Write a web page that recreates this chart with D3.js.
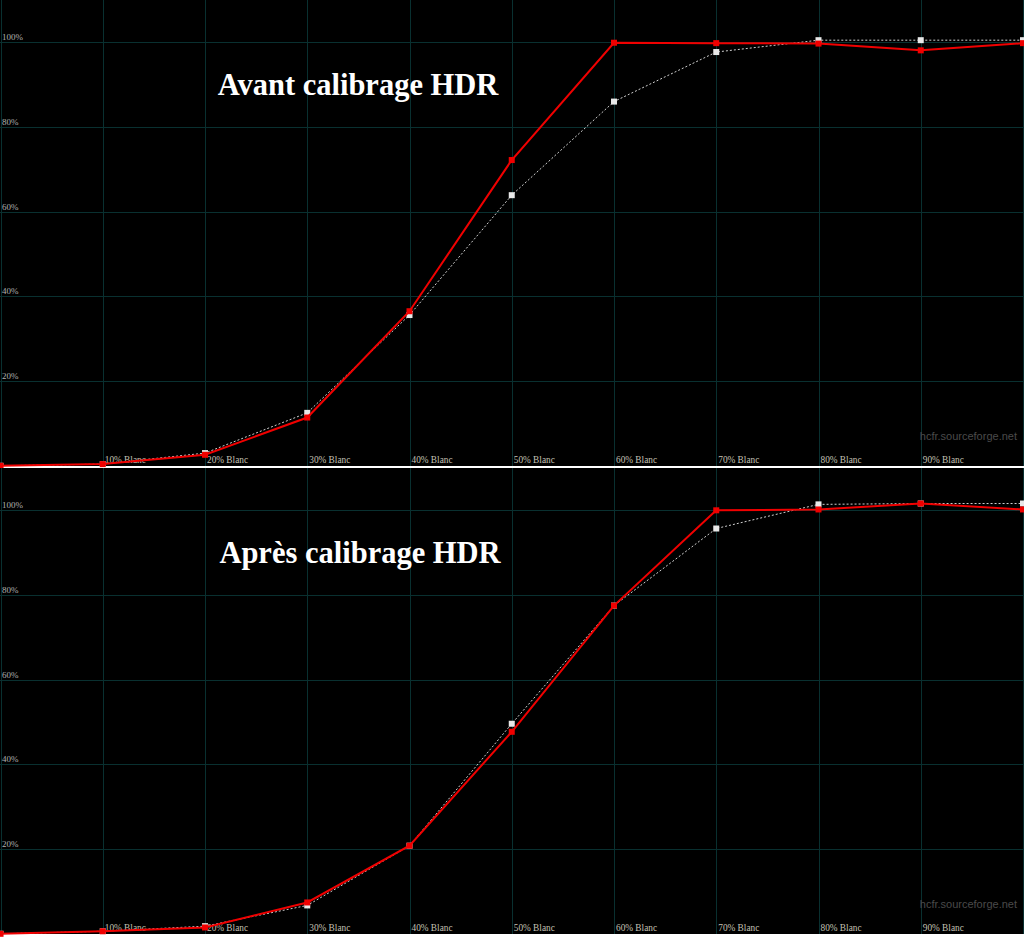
<!DOCTYPE html>
<html>
<head>
<meta charset="utf-8">
<script src="https://cdn.jsdelivr.net/npm/d3@7"></script>
<style>
html,body{margin:0;padding:0;background:#fff;}
svg{display:block;}
</style>
</head>
<body>
<svg id="chart" width="1024" height="942"></svg>
<script>
// ---- data ----
const levels = [0, 10, 20, 30, 40, 50, 60, 70, 80, 90, 100];
const xTickLevels = [10, 20, 30, 40, 50, 60, 70, 80, 90];
const xTickLabels = ["10% Blanc", "20% Blanc", "30% Blanc", "40% Blanc", "50% Blanc", "60% Blanc", "70% Blanc", "80% Blanc", "90% Blanc"];
const yTickValues = [20, 40, 60, 80, 100];
const yTickLabels = ["20%", "40%", "60%", "80%", "100%"];
const panelTitles = ["Avant calibrage HDR", "Après calibrage HDR"];
const watermark = "hcfr.sourceforge.net";
// reference (target) curve, white dotted
const beforeRef = [0, 0.4, 3.0, 12.5, 35.6, 63.9, 86.0, 97.7, 100.5, 100.5, 100.5];
// measured curve, red
const beforeMeas = [0, 0.4, 2.6, 11.4, 36.5, 72.2, 99.9, 99.8, 99.7, 98.1, 99.8];
const afterRef = [0, 0.6, 1.8, 6.7, 20.8, 49.6, 77.5, 95.7, 101.4, 101.6, 101.6];
const afterMeas = [0, 0.6, 1.5, 7.4, 20.8, 47.7, 77.5, 100.0, 100.2, 101.6, 100.2];

const panels = [
  {title: panelTitles[0], ref: beforeRef, meas: beforeMeas, top: 0, tx: 358},
  {title: panelTitles[1], ref: afterRef, meas: afterMeas, top: 468, tx: 360}
];

const svg = d3.select("#chart");
const W = 1024, panelH = 466;
const x = d3.scaleLinear().domain([0, 100]).range([0.5, 1023]);
const y = d3.scaleLinear().domain([0, 100]).range([465.8, 42.3]);
const gridColor = "#093030";

svg.append("rect").attr("x", 0).attr("y", 0).attr("width", W).attr("height", 942).attr("fill", "#fff");

panels.forEach(p => {
  const g = svg.append("g").attr("transform", `translate(0,${p.top})`);
  g.append("rect").attr("x", 0).attr("y", 0).attr("width", W).attr("height", panelH).attr("fill", "#000");

  // vertical grid
  g.selectAll("line.vg").data(levels).enter().append("line")
    .attr("x1", d => Math.round(x(d)) + 0.5).attr("x2", d => Math.round(x(d)) + 0.5)
    .attr("y1", 0).attr("y2", panelH)
    .attr("stroke", gridColor).attr("stroke-width", 1);
  // horizontal grid
  g.selectAll("line.hg").data(yTickValues).enter().append("line")
    .attr("x1", 0).attr("x2", W)
    .attr("y1", d => Math.round(y(d)) + 0.5).attr("y2", d => Math.round(y(d)) + 0.5)
    .attr("stroke", gridColor).attr("stroke-width", 1);

  // y labels
  g.selectAll("text.yl").data(yTickValues).enter().append("text")
    .attr("x", 2).attr("y", d => y(d) - 2)
    .attr("font-family", "Liberation Serif, serif").attr("font-size", 9)
    .attr("fill", "#b0b0b0")
    .text((d, i) => yTickLabels[i]);

  // x labels
  g.selectAll("text.xl").data(xTickLevels).enter().append("text")
    .attr("x", d => x(d) + 2).attr("y", 463)
    .attr("font-family", "Liberation Serif, serif").attr("font-size", 9.3)
    .attr("fill", "#c4c0b4")
    .text((d, i) => xTickLabels[i]);

  // watermark
  g.append("text").attr("x", 1017).attr("y", 440).attr("text-anchor", "end")
    .attr("font-family", "Liberation Sans, Arial, sans-serif").attr("font-size", 11)
    .attr("fill", "#4a4a4a").text(watermark);

  // title
  g.append("text").attr("x", p.tx).attr("y", 95).attr("text-anchor", "middle")
    .attr("font-family", "Liberation Serif, Times New Roman, serif").attr("font-weight", "bold")
    .attr("font-size", 30.5).attr("fill", "#fff").text(p.title);

  const line = d3.line().x((d, i) => x(levels[i])).y(d => y(d));

  // reference curve (white dotted)
  g.append("path").datum(p.ref).attr("d", line).attr("fill", "none")
    .attr("stroke", "#d0d0d0").attr("stroke-width", 1).attr("stroke-dasharray", "2,2");
  g.selectAll("rect.rm").data(p.ref).enter().append("rect")
    .attr("x", (d, i) => x(levels[i]) - 3).attr("y", d => y(d) - 3)
    .attr("width", 6).attr("height", 6).attr("fill", "#e8e8e8");

  // measured curve (red)
  g.append("path").datum(p.meas).attr("d", line).attr("fill", "none")
    .attr("stroke", "#f00000").attr("stroke-width", 2);
  g.selectAll("rect.mm").data(p.meas).enter().append("rect")
    .attr("x", (d, i) => x(levels[i]) - 3).attr("y", d => y(d) - 3)
    .attr("width", 6).attr("height", 6).attr("fill", "#f00000");
});
</script>
</body>
</html>
